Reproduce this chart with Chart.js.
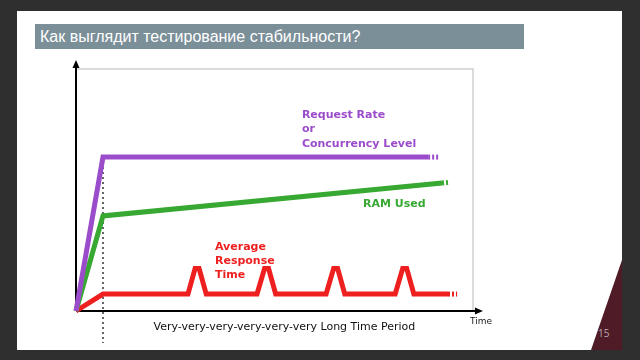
<!DOCTYPE html>
<html>
<head>
<meta charset="utf-8">
<script src="https://cdn.jsdelivr.net/npm/chart.js@4/dist/chart.umd.min.js"></script>
<style>
  html, body { margin: 0; padding: 0; width: 640px; height: 360px; overflow: hidden; background: #2f2f2f; }
  #slide { position: absolute; left: 17px; top: 11px; width: 605px; height: 339px; background: #ffffff; }
  #title { position: absolute; left: 35px; top: 24px; width: 489px; height: 25px; background: #7b8f99;
           color: #ffffff; font-family: "Liberation Sans", Arial, sans-serif; font-size: 16px; line-height: 25px;
           padding-left: 5px; box-sizing: border-box; white-space: nowrap; }
  #corner { position: absolute; left: 591px; top: 260px; width: 31px; height: 90px; background: #4e1b27;
            clip-path: polygon(100% 0, 100% 100%, 0 100%); }
  #page { position: absolute; left: 598px; top: 326px; font-family: "Open Sans", sans-serif; font-size: 10px; color: #b9a9ad; }
  #wrap { position: absolute; left: 0; top: 0; width: 640px; height: 360px; }
</style>
</head>
<body>
<div id="slide"></div>
<div id="title">Как выглядит тестирование стабильности?</div>
<div id="corner"></div>
<div id="page">15</div>
<div id="wrap"><canvas id="c" width="640" height="360"></canvas></div>
<script>
// ---- data (x: time units, y: level units) ----
const requestX = [0, 6.8, 88.7];
const requestY = [0, 63.6, 63.6];
const requestTailX = [88.7, 91.7];
const requestTailY = [63.6, 63.6];

const ramX = [0, 6.8, 92.2];
const ramY = [0, 39.3, 52.9];
const ramTailX = [92.2, 94.2];
const ramTailY = [52.9, 53.2];

const responseX = [0, 6.8, 28.2, 30.0, 31.0, 32.8, 45.6, 47.5, 48.5, 50.3, 63.0, 64.9, 65.9, 67.7, 80.4, 82.3, 83.3, 85.1, 93.7];
const responseY = [0, 7.0, 7.0, 17.6, 17.6, 7.0, 7.0, 17.6, 17.6, 7.0, 7.0, 17.6, 17.6, 7.0, 7.0, 17.6, 17.6, 7.0, 7.0];
const responseTailX = [93.7, 96.0];
const responseTailY = [7.0, 7.0];

const stableStartX = 6.8;
const seriesLabels = ["Request Rate|or|Concurrency Level", "RAM Used", "Average|Response|Time"];
const xAxisLabel = "Very-very-very-very-very-very Long Time Period";
const xAxisEnd = "Time";

const purple = "#9a4ccb";
const green = "#37a832";
const red = "#ee1f1f";

function pts(xs, ys) { return xs.map((x, i) => ({ x: x, y: ys[i] })); }

function ds(xs, ys, color, dash) {
  return {
    data: pts(xs, ys), borderColor: color, backgroundColor: color, borderWidth: 5,
    pointRadius: 0, tension: 0, fill: false, borderDash: dash || [], borderCapStyle: 'butt',
    borderJoinStyle: 'miter', clip: false
  };
}

const decor = {
  id: 'decor',
  beforeDatasetsDraw(chart) {
    const ctx = chart.ctx, xs = chart.scales.x, ys = chart.scales.y;
    const X = v => xs.getPixelForValue(v), Y = v => ys.getPixelForValue(v);
    ctx.save();
    // frame
    ctx.strokeStyle = "#cfcfcf"; ctx.lineWidth = 1.5;
    ctx.beginPath();
    ctx.moveTo(X(0), Y(100)); ctx.lineTo(X(100), Y(100)); ctx.lineTo(X(100), Y(0));
    ctx.stroke();
    // dotted guide
    ctx.strokeStyle = "#333"; ctx.lineWidth = 1.5; ctx.setLineDash([2, 3]);
    ctx.beginPath(); ctx.moveTo(X(stableStartX), Y(63.6)); ctx.lineTo(X(stableStartX), Y(-13.2)); ctx.stroke();
    ctx.setLineDash([]);
    // axes
    ctx.strokeStyle = "#000"; ctx.fillStyle = "#000"; ctx.lineWidth = 2;
    const ox = X(0), oy = Y(0), ty = Y(103.7), rx = X(102.5);
    ctx.beginPath(); ctx.moveTo(ox, oy); ctx.lineTo(ox, ty + 6); ctx.stroke();
    ctx.beginPath(); ctx.moveTo(ox, ty); ctx.lineTo(ox - 3.5, ty + 8); ctx.lineTo(ox + 3.5, ty + 8); ctx.closePath(); ctx.fill();
    ctx.beginPath(); ctx.moveTo(ox, oy); ctx.lineTo(rx - 6, oy); ctx.stroke();
    ctx.beginPath(); ctx.moveTo(rx, oy); ctx.lineTo(rx - 8, oy - 3.5); ctx.lineTo(rx - 8, oy + 3.5); ctx.closePath(); ctx.fill();
    ctx.restore();
  },
  afterDatasetsDraw(chart) {
    const ctx = chart.ctx, xs = chart.scales.x, ys = chart.scales.y;
    const X = v => xs.getPixelForValue(v), Y = v => ys.getPixelForValue(v);
    ctx.save();
    ctx.textBaseline = "middle"; ctx.textAlign = "left";
    ctx.font = "bold 11px 'DejaVu Sans'";
    const put = (text, x, yVals, color) => {
      ctx.fillStyle = color;
      text.split("|").forEach((t, i) => ctx.fillText(t, X(x), Y(yVals[i])));
    };
    put(seriesLabels[0], 56.9, [81.0, 75.0, 69.0], purple);
    put(seriesLabels[1], 72.3, [44.2], green);
    put(seriesLabels[2], 35.0, [26.4, 20.6, 14.8], red);
    ctx.fillStyle = "#111"; ctx.textAlign = "center";
    ctx.font = "11px 'DejaVu Sans'";
    ctx.fillText(xAxisLabel, X(52.5), Y(-6.6));
    ctx.font = "9px 'DejaVu Sans'"; ctx.fillStyle = "#222";
    ctx.fillText(xAxisEnd, X(102), Y(-4.6));
    ctx.restore();
  }
};

new Chart(document.getElementById("c"), {
  type: 'line',
  data: {
    datasets: [
      ds(requestX, requestY, purple), ds(requestTailX, requestTailY, purple, [2, 2]),
      ds(ramX, ramY, green), ds(ramTailX, ramTailY, green, [2, 2]),
      ds(responseX, responseY, red), ds(responseTailX, responseTailY, red, [2, 2])
    ]
  },
  options: {
    responsive: false, animation: false, devicePixelRatio: 1,
    layout: { padding: { left: 76, top: 69, right: 167, bottom: 49 } },
    plugins: { legend: { display: false }, tooltip: { enabled: false } },
    scales: {
      x: { type: 'linear', min: 0, max: 100, display: false },
      y: { type: 'linear', min: 0, max: 100, display: false }
    }
  },
  plugins: [decor]
});
</script>
</body>
</html>
